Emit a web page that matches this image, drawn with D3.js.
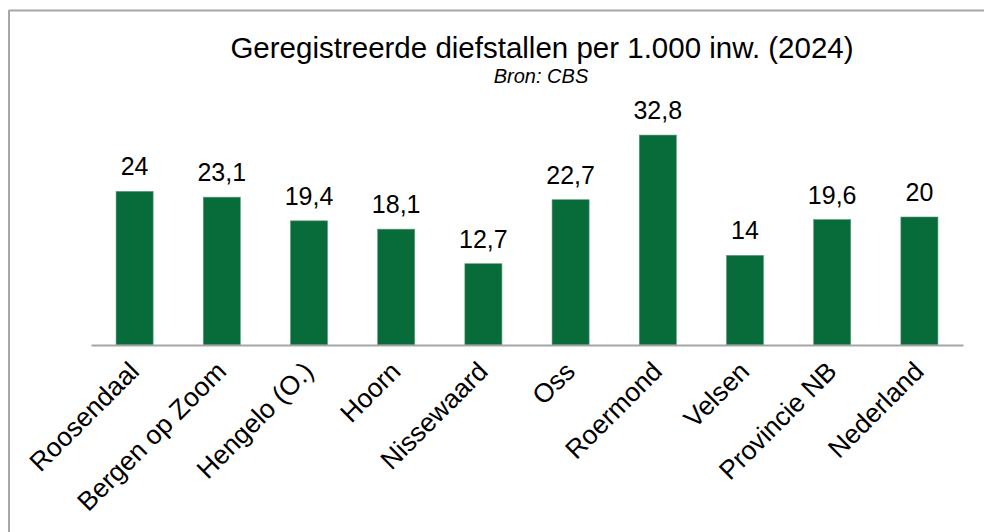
<!DOCTYPE html>
<html>
<head>
<meta charset="utf-8">
<script src="https://cdn.jsdelivr.net/npm/d3@7"></script>
<style>
  body { margin: 0; background: #fff; }
  text { font-family: "Liberation Sans", Arial, sans-serif; fill: #000; }
</style>
</head>
<body>
<script>
var width = 984, height = 532;

var categories = ["Roosendaal", "Bergen op Zoom", "Hengelo (O.)", "Hoorn", "Nissewaard",
                  "Oss", "Roermond", "Velsen", "Provincie NB", "Nederland"];
var values = [24, 23.1, 19.4, 18.1, 12.7, 22.7, 32.8, 14, 19.6, 20];
var valueLabels = ["24", "23,1", "19,4", "18,1", "12,7", "22,7", "32,8", "14", "19,6", "20"];

var svg = d3.select("body").append("svg")
	.attr("width", width)
	.attr("height", height);

// frame (top + left edge only visible)
svg.append("line")
	.attr("x1", 9).attr("x2", width).attr("y1", 10.5).attr("y2", 10.5)
	.attr("stroke", "#a6a6a6").attr("stroke-width", 2);
svg.append("line")
	.attr("x1", 9).attr("x2", 9).attr("y1", 10).attr("y2", height)
	.attr("stroke", "#a6a6a6").attr("stroke-width", 2);

var x = d3.scaleBand()
	.domain(categories)
	.range([91, 963])
	.paddingInner(0.575)
	.paddingOuter(0.2875);

var y = d3.scaleLinear()
	.domain([0, 35])
	.range([345, 121]);

// title
svg.append("text")
	.attr("x", 542).attr("y", 58)
	.attr("text-anchor", "middle")
	.style("font-size", "29.5px")
	.text("Geregistreerde diefstallen per 1.000 inw. (2024)");

svg.append("text")
	.attr("x", 541).attr("y", 83)
	.attr("text-anchor", "middle")
	.style("font-size", "20px")
	.style("font-style", "italic")
	.text("Bron: CBS");

// bars
svg.selectAll(".bar")
	.data(values)
	.enter().append("rect")
	.attr("class", "bar")
	.attr("x", function(d, i) { return x(categories[i]); })
	.attr("y", function(d) { return y(d); })
	.attr("width", x.bandwidth())
	.attr("height", function(d) { return y(0) - y(d); })
	.attr("fill", "#076b3a")
	.attr("stroke", "#5e9a78")
	.attr("stroke-width", 0.6);

// value labels
svg.selectAll(".val")
	.data(values)
	.enter().append("text")
	.attr("class", "val")
	.attr("x", function(d, i) { return x(categories[i]) + x.bandwidth() / 2; })
	.attr("y", function(d) { return y(d) - 16; })
	.attr("text-anchor", "middle")
	.style("font-size", "25px")
	.text(function(d, i) { return valueLabels[i]; });

// axis baseline
var xAxis = d3.axisBottom(x).tickSize(0).tickSizeOuter(0).tickPadding(0);
var gx = svg.append("g")
	.attr("transform", "translate(0," + y(0) + ")")
	.call(xAxis);
gx.select(".domain").attr("stroke", "#a6a6a6").attr("stroke-width", 2);
gx.selectAll(".tick text")
	.attr("font-family", null)
	.style("font-size", "26.5px")
	.attr("text-anchor", "end")
	.attr("dy", null)
	.attr("y", 0)
	.attr("transform", "translate(6,28) rotate(-45)");
</script>
</body>
</html>
